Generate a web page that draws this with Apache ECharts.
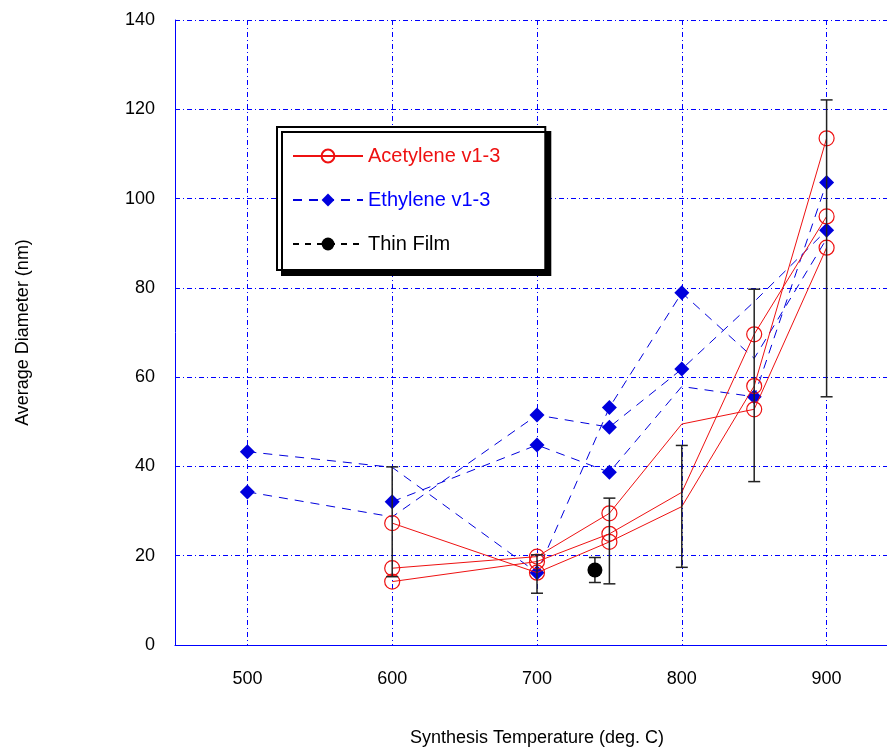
<!DOCTYPE html>
<html>
<head>
<meta charset="utf-8">
<script src="https://cdn.jsdelivr.net/npm/echarts@6/dist/echarts.min.js"></script>
<style>
  html, body { margin: 0; padding: 0; background: #fff; }
  #chart { width: 887px; height: 750px; }
</style>
</head>
<body>
<div id="chart"></div>
<script>
// temperatures (deg. C) shared by the CVD runs
const temps = [500, 600, 700, 750, 800, 850, 900];

// acetylene runs v1-3 (nm)
const acet1 = [null, 27.3, 16.2, 23.1, 31.0, 58.0, 113.5];
const acet2 = [null, 17.2, 19.8, 29.5, 49.5, 52.8, 89.0];
const acet3 = [null, 14.2, 18.7, 24.9, 34.2, 69.6, 96.0];

// ethylene runs v1-3 (nm)
const eth1 = [43.3, 39.8, 16.2, 53.2, 78.9, 64.2, 91.0];
const eth2 = [34.3, 28.7, 51.5, 48.8, 61.8, 76.9, 92.9];
const eth3 = [null, 32.1, 44.8, 38.7, 57.9, 55.6, 103.6];

// temperatures where the original plot shows no marker
const acetBare = [800];
const eth1Bare = [600, 850, 900];
const eth2Bare = [600, 850];
const eth3Bare = [800];

// error bars (spread of the runs)
const errTemps = [600, 700, 750, 800, 850, 900];
const errLow = [15.3, 11.6, 13.7, 17.4, 36.6, 55.6];
const errHigh = [39.9, 20.2, 32.9, 44.7, 79.7, 122.1];

// thin film sample
const filmTemp = [740];
const filmVal = [16.8];
const filmLow = [14.0];
const filmHigh = [19.6];

const yTicks = [0, 20, 40, 60, 80, 100, 120, 140];

const FONT = 'Liberation Sans, Arial, sans-serif';
const RED = '#ee1111';
const BLUE = '#0000dd';

const toPoints = (vals, bare) => {
  const pts = [];
  vals.forEach((v, i) => {
    if (v == null) return;
    const item = { value: [temps[i], v] };
    if (bare.indexOf(temps[i]) >= 0) item.symbol = 'none';
    pts.push(item);
  });
  return pts;
};

const acetSeries = (vals) => ({
  name: 'Acetylene v1-3',
  type: 'line',
  data: toPoints(vals, acetBare),
  symbol: 'circle',
  symbolSize: 15,
  z: 4,
  lineStyle: { color: RED, width: 1 },
  itemStyle: { color: 'rgba(255,255,255,0)', borderColor: RED, borderWidth: 1.2 }
});

const ethSeries = (vals, bare) => ({
  name: 'Ethylene v1-3',
  type: 'line',
  data: toPoints(vals, bare),
  symbol: 'diamond',
  symbolSize: 15,
  z: 3,
  lineStyle: { color: BLUE, width: 1, type: [9, 7] },
  itemStyle: { color: BLUE }
});

const errData = errTemps.map((t, i) => [t, errLow[i], errHigh[i]]);
const filmErr = filmTemp.map((t, i) => [t, filmLow[i], filmHigh[i]]);

const renderErr = (params, api) => {
  const lo = api.coord([api.value(0), api.value(1)]);
  const hi = api.coord([api.value(0), api.value(2)]);
  const w = 6;
  const st = { stroke: '#222', lineWidth: 1.5 };
  return {
    type: 'group',
    children: [
      { type: 'line', shape: { x1: lo[0], y1: lo[1], x2: hi[0], y2: hi[1] }, style: st },
      { type: 'line', shape: { x1: lo[0] - w, y1: lo[1], x2: lo[0] + w, y2: lo[1] }, style: st },
      { type: 'line', shape: { x1: hi[0] - w, y1: hi[1], x2: hi[0] + w, y2: hi[1] }, style: st }
    ]
  };
};

var myChart = echarts.init(document.getElementById('chart'));

option = {
  animation: false,
  backgroundColor: '#fff',
  grid: {
    left: 175,
    right: -12,
    top: 20,
    bottom: 105,
    outerBoundsMode: 'none'
  },
  legend: {
    orient: 'vertical',
    left: 277,
    top: 127,
    padding: [17, 45, 14, 15],
    itemWidth: 70,
    itemHeight: 16,
    itemGap: 20,
    backgroundColor: '#fff',
    borderColor: '#000',
    borderWidth: 2,
    shadowColor: '#000',
    shadowBlur: 0,
    shadowOffsetX: 5,
    shadowOffsetY: 5,
    textStyle: { fontFamily: FONT, fontSize: 20, lineHeight: 24 },
    data: [
      { name: 'Acetylene v1-3', textStyle: { color: RED } },
      { name: 'Ethylene v1-3', textStyle: { color: '#0000ff' } },
      { name: 'Thin Film', textStyle: { color: '#000' } }
    ]
  },
  xAxis: {
    type: 'value',
    min: 450,
    max: 950,
    interval: 50,
    name: 'Synthesis Temperature (deg. C)',
    nameLocation: 'middle',
    nameGap: 84,
    nameTextStyle: { fontFamily: FONT, fontSize: 18, color: '#000' },
    axisLine: { show: true, lineStyle: { color: '#0000ff', width: 1 } },
    axisTick: { show: false },
    axisLabel: {
      margin: 25,
      fontFamily: FONT,
      fontSize: 18,
      color: '#000',
      formatter: function (v) {
        return v % 100 === 0 && v < 950 ? String(v) : '';
      }
    },
    splitLine: {
      show: true,
      lineStyle: { color: ['rgba(0,0,0,0)', '#0000ff'], width: 1, type: [5, 3, 1, 3] }
    }
  },
  yAxis: {
    type: 'value',
    min: yTicks[0],
    max: yTicks[yTicks.length - 1],
    interval: 20,
    name: 'Average Diameter (nm)',
    nameLocation: 'middle',
    nameGap: 143,
    nameTextStyle: { fontFamily: FONT, fontSize: 18, color: '#000' },
    axisLine: { show: true, lineStyle: { color: '#0000ff', width: 1 } },
    axisTick: { show: false },
    axisLabel: { margin: 20, fontFamily: FONT, fontSize: 18, color: '#000' },
    splitLine: {
      show: true,
      lineStyle: { color: '#0000ff', width: 1, type: [5, 3, 1, 3] }
    }
  },
  series: [
    ethSeries(eth1, eth1Bare),
    ethSeries(eth2, eth2Bare),
    ethSeries(eth3, eth3Bare),
    acetSeries(acet1),
    acetSeries(acet2),
    acetSeries(acet3),
    {
      name: 'errors',
      type: 'custom',
      renderItem: renderErr,
      data: errData,
      z: 5,
      encode: { x: 0, y: [1, 2] }
    },
    {
      name: 'film errors',
      type: 'custom',
      renderItem: renderErr,
      data: filmErr,
      z: 5,
      encode: { x: 0, y: [1, 2] }
    },
    {
      name: 'Thin Film',
      type: 'line',
      data: filmTemp.map((t, i) => [t, filmVal[i]]),
      symbol: 'circle',
      symbolSize: 15,
      z: 6,
      lineStyle: { color: '#000', width: 1, type: [6, 6] },
      itemStyle: { color: '#000' }
    }
  ]
};

myChart.setOption(option);
</script>
</body>
</html>
